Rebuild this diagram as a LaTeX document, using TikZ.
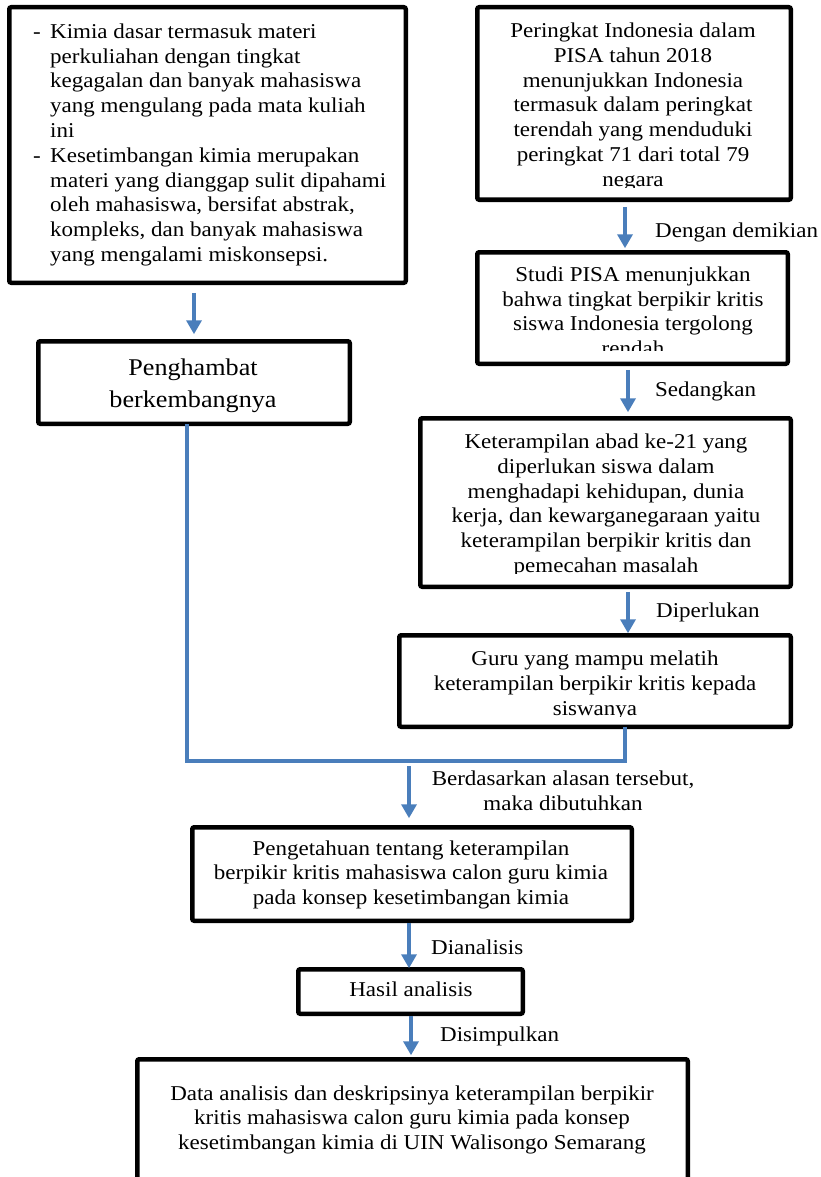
\documentclass[tikz,border=0pt]{standalone}
\usepackage{fontspec}
\setmainfont[FakeStretch=1.09]{Liberation Serif}
\usetikzlibrary{arrows.meta}
\definecolor{flowblue}{HTML}{4A7EBB}
\newcommand{\mlines}[1]{\begin{tabular}{@{}c@{}}#1\end{tabular}}
\begin{document}
\begin{tikzpicture}[x=1pt,y=-1pt,
  box/.style={draw=black, line width=4.5pt, rounded corners=2pt, inner sep=0pt, outer sep=0pt},
  txt/.style={inner sep=0pt, font=\fontsize{21.1}{24.8}\selectfont},
  bigtxt/.style={inner sep=0pt, font=\fontsize{24}{31.5}\selectfont},
  lbl/.style={inner sep=0pt, font=\fontsize{21.1}{24.8}\selectfont, anchor=base west},
  arr/.style={draw=flowblue, line width=3.5pt, -{Triangle[width=15pt,length=14pt]}},
  link/.style={draw=flowblue, line width=3.5pt}]
\path[use as bounding box, clip] (0,0) rectangle (821,1177);

% helper x coordinates
\coordinate (xa) at (625,0);
\coordinate (xb) at (628,0);
\coordinate (xj) at (409,0);
\coordinate (xk) at (411,0);
\coordinate (jl) at (187,761);

% Box 1
\node[box, minimum width=396.5, minimum height=275.5] (b1) at (207.5,145) {};
\node[txt, anchor=west] (t1) at (33,145) {\begin{tabular}{@{}p{17pt}@{}l@{}}
-&Kimia dasar termasuk materi\\
&perkuliahan dengan tingkat\\
&kegagalan dan banyak mahasiswa\\
&yang mengulang pada mata kuliah\\
&ini\\
-&Kesetimbangan kimia merupakan\\
&materi yang dianggap sulit dipahami\\
&oleh mahasiswa, bersifat abstrak,\\
&kompleks, dan banyak mahasiswa\\
&yang mengalami miskonsepsi.
\end{tabular}};

% Penghambat
\node[box, minimum width=311.5, minimum height=82.5] (bP) at (194,382.5) {};
\node[bigtxt] (tP) at (193,385) {\mlines{Penghambat\\berkembangnya}};

% Box 2
\node[box, minimum width=313.5, minimum height=192.5] (b2) at (634,103.5) {};
\begin{scope}
\clip (475,5) rectangle (793,188);
\node[txt] (t2) at (633,107) {\mlines{Peringkat Indonesia dalam\\PISA tahun 2018\\menunjukkan Indonesia\\termasuk dalam peringkat\\terendah yang menduduki\\peringkat 71 dari total 79\\negara}};
\end{scope}

% Box 3
\node[box, minimum width=310.5, minimum height=111.5] (b3) at (632.5,308) {};
\begin{scope}
\clip (475,250) rectangle (790,350);
\node[txt] (t3) at (633,313.5) {\mlines{Studi PISA menunjukkan\\bahwa tingkat berpikir kritis\\siswa Indonesia tergolong\\rendah}};
\end{scope}

% Box 4
\node[box, minimum width=370.5, minimum height=168.5] (b4) at (605.5,502.5) {};
\begin{scope}
\clip (418,416) rectangle (793,573.5);
\node[txt] (t4) at (606,505.5) {\mlines{Keterampilan abad ke-21 yang\\diperlukan siswa dalam\\menghadapi kehidupan, dunia\\kerja, dan kewarganegaraan yaitu\\keterampilan berpikir kritis dan\\pemecahan masalah}};
\end{scope}

% Box 5
\node[box, minimum width=391.5, minimum height=91.5] (b5) at (595,681) {};
\begin{scope}
\clip (397,633) rectangle (793,716);
\node[txt] (t5) at (595,685.5) {\mlines{Guru yang mampu melatih\\keterampilan berpikir kritis kepada\\siswanya}};
\end{scope}

% Box 6
\node[box, minimum width=439.5, minimum height=93.5] (b6) at (412,874) {};
\node[txt] (t6) at (411,875) {\mlines{Pengetahuan tentang keterampilan\\berpikir kritis mahasiswa calon guru kimia\\pada konsep kesetimbangan kimia}};

% Box 7
\node[box, minimum width=224.5, minimum height=44.5] (b7) at (410.5,991.5) {};
\node[txt] (t7) at (411,992) {\mlines{Hasil analisis}};

% Box 8
\node[box, minimum width=550.5, minimum height=129.5] (b8) at (412.5,1124) {};
\node[txt] (t8) at (412,1120) {\mlines{Data analisis dan deskripsinya keterampilan berpikir\\kritis mahasiswa calon guru kimia pada konsep\\kesetimbangan kimia di UIN Walisongo Semarang}};

% Labels
\node[lbl] (l1) at (655,237) {Dengan demikian};
\node[lbl] (l2) at (655,396) {Sedangkan};
\node[lbl] (l3) at (656,617) {Diperlukan};
\node[txt] (l4) at (563,793) {\mlines{Berdasarkan alasan tersebut,\\maka dibutuhkan}};
\node[lbl] (l5) at (431,954) {Dianalisis};
\node[lbl] (l6) at (440,1041) {Disimpulkan};

% Connectors
\draw[arr, shorten <=10pt, shorten >=7pt] (bP.north |- b1.south) -- (bP.north);
\draw[arr, shorten <=7pt, shorten >=4pt] (b2.south -| xa) -- (b3.north -| xa);
\draw[arr, shorten <=6pt, shorten >=6pt] (b3.south -| xb) -- (b4.north -| xb);
\draw[arr, shorten <=5pt, shorten >=2pt] (b4.south -| xb) -- (b5.north -| xb);
\draw[link] (b5.south -| xa) |- (jl) -- (bP.south -| jl);
\draw[arr, shorten <=5pt, shorten >=9pt] (jl -| xj) -- (b6.north -| xj);
\draw[arr, shorten <=2pt, shorten >=1pt] (b6.south -| xj) -- (b7.north -| xj);
\draw[arr, shorten <=2pt, shorten >=4pt] (b7.south -| xk) -- (b8.north -| xk);
\end{tikzpicture}
\end{document}
